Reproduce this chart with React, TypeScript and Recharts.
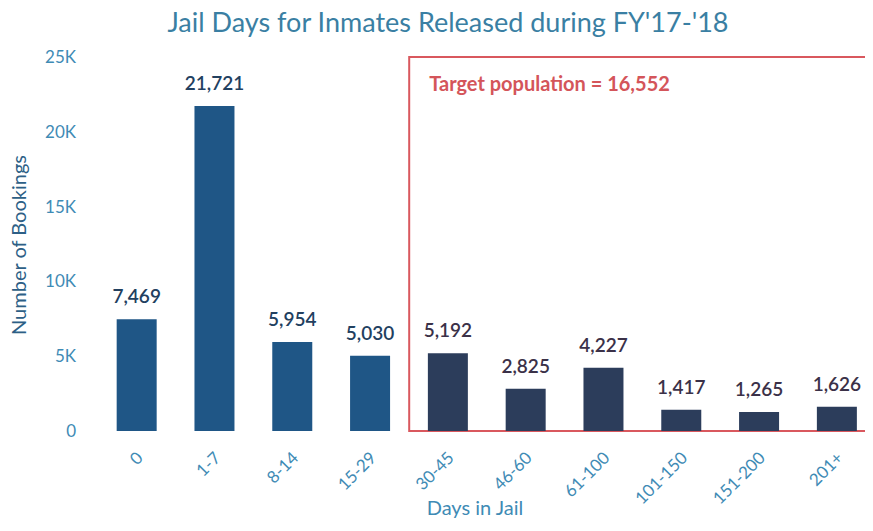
import { BarChart, Bar, XAxis, YAxis, Cell, LabelList, ReferenceArea, Label } from 'recharts';

const categories = ['0', '1-7', '8-14', '15-29', '30-45', '46-60', '61-100', '101-150', '151-200', '201+'];
const bookings = [7469, 21721, 5954, 5030, 5192, 2825, 4227, 1417, 1265, 1626];
const yTicks = [0, 5000, 10000, 15000, 20000, 25000];
const targetFrom = '30-45';
const targetTo = '201+';
const targetLabel = 'Target population = 16,552';

const data = categories.map((c, i) => ({ days: c, count: bookings[i] }));

const FONT = 'Lato, "Open Sans", sans-serif';
const AXIS_BLUE = '#3f8bb5';

const inTarget = (i: number) => i >= categories.indexOf(targetFrom);

const XTick = (props: any) => {
  const { x, y, payload } = props;
  return (
    <text
      x={x + 7}
      y={y + 20}
      transform={`rotate(-45 ${x + 7} ${y + 20})`}
      textAnchor="end"
      fill={AXIS_BLUE}
      fontSize={17}
      fontFamily={FONT}
    >
      {payload.value}
    </text>
  );
};

const ValueLabel = (props: any) => {
  const { x, y, width, value, index } = props;
  const target = inTarget(index);
  return (
    <text
      x={x + width / 2}
      y={y - 16}
      textAnchor="middle"
      fill={target ? '#3b3148' : '#22405f'}
      fontSize={19}
      fontWeight={600}
      fontFamily={FONT}
    >
      {Number(value).toLocaleString('en-US')}
    </text>
  );
};

const App = () => {
  return (
    <div style={{ margin: -8, width: 873, height: 531, overflow: 'hidden', background: '#fff', position: 'relative' }}>
      <div
        style={{
          position: 'absolute',
          top: 5,
          left: 0,
          width: 896,
          textAlign: 'center',
          fontFamily: FONT,
          fontSize: 27,
          color: '#3a7fa3',
        }}
      >
        Jail Days for Inmates Released during FY'17-'18
      </div>
      <BarChart
        width={882}
        height={531}
        data={data}
        margin={{ top: 57, right: 6, left: 28, bottom: 0 }}
        barCategoryGap="24%"
      >
        <XAxis
          dataKey="days"
          axisLine={false}
          tickLine={false}
          height={100}
          interval={0}
          tick={<XTick />}
        >
          <Label
            value="Days in Jail"
            position="insideBottom"
            offset={16}
            dx={-12}
            fill={AXIS_BLUE}
            fontSize={20}
            fontFamily={FONT}
          />
        </XAxis>
        <YAxis
          domain={[0, 25000]}
          ticks={yTicks}
          width={70}
          axisLine={false}
          tickLine={false}
          tickSize={0}
          tickMargin={22}
          tickFormatter={(v: number) => (v === 0 ? '0' : `${v / 1000}K`)}
          tick={{ fill: AXIS_BLUE, fontSize: 17, fontFamily: FONT }}
        >
          <Label
            content={() => (
              <text
                x={18}
                y={245}
                transform="rotate(-90 18 245)"
                textAnchor="middle"
                dominantBaseline="central"
                fill="#2d5f86"
                fontSize={20}
                fontFamily={FONT}
              >
                Number of Bookings
              </text>
            )}
          />
        </YAxis>
        <ReferenceArea
          x1={targetFrom}
          x2={targetTo}
          y1={0}
          y2={25000}
          fill="none"
          stroke="#d9585e"
          strokeWidth={2}
          ifOverflow="visible"
        >
          <Label
            value={targetLabel}
            position="insideTopLeft"
            offset={20}
            fill="#d4555a"
            fontSize={20}
            fontWeight={700}
            fontFamily={FONT}
          />
        </ReferenceArea>
        <Bar dataKey="count" isAnimationActive={false}>
          {data.map((_, i) => (
            <Cell key={i} fill={inTarget(i) ? '#2c3d5b' : '#1f5686'} />
          ))}
          <LabelList dataKey="count" content={<ValueLabel />} />
        </Bar>
      </BarChart>
    </div>
  );
};

export default App;
